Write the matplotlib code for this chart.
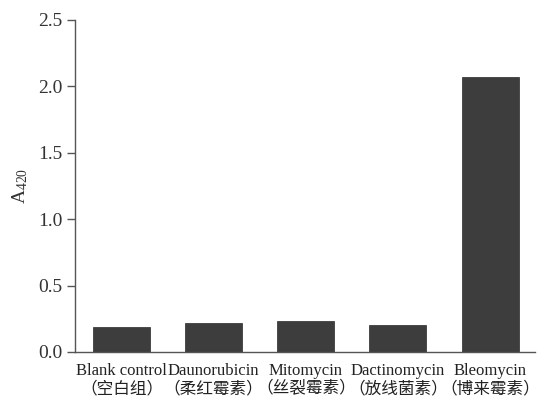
import matplotlib
matplotlib.use('Agg')
import matplotlib.pyplot as plt

plt.rcParams['font.family'] = ['Liberation Serif', 'Noto Sans CJK SC']
plt.rcParams['mathtext.fontset'] = 'custom'
plt.rcParams['mathtext.rm'] = 'Liberation Serif'
plt.rcParams['mathtext.it'] = 'Liberation Serif'

categories = ['Blank control\n（空白组）', 'Daunorubicin\n（柔红霉素）', 'Mitomycin\n（丝裂霉素）',
              'Dactinomycin\n（放线菌素）', 'Bleomycin\n（博来霉素）']
values = [0.19, 0.215, 0.23, 0.20, 2.07]
y_ticks = [0.0, 0.5, 1.0, 1.5, 2.0, 2.5]

fig = plt.figure(figsize=(5.39, 4.0), dpi=100)
ax = fig.add_axes([0.139, 0.12, 0.854, 0.83])

x = list(range(len(categories)))
ax.bar(x, values, width=0.62, color='#3d3d3d', edgecolor='#2a2a2a', linewidth=0.5)

ax.set_xlim(-0.505, 4.49)
ax.set_ylim(0, 2.5)
ax.set_yticks(y_ticks)
ax.set_yticklabels(['%.1f' % t for t in y_ticks], fontsize=14, color='#333333')
ax.set_xticks(x)
ax.set_xticklabels(categories, fontsize=12, color='#222222', linespacing=1.15)
ax.tick_params(axis='x', length=0, pad=8)
ax.tick_params(axis='y', length=6, width=1, color='#555555', pad=3)

for s in ['top', 'right']:
    ax.spines[s].set_visible(False)
for s in ['left', 'bottom']:
    ax.spines[s].set_color('#555555')
    ax.spines[s].set_linewidth(1)

ax.set_ylabel(r'A$_{\mathrm{420}}$', fontsize=14, color='#333333', labelpad=6)

plt.savefig('out.png', dpi=100)
